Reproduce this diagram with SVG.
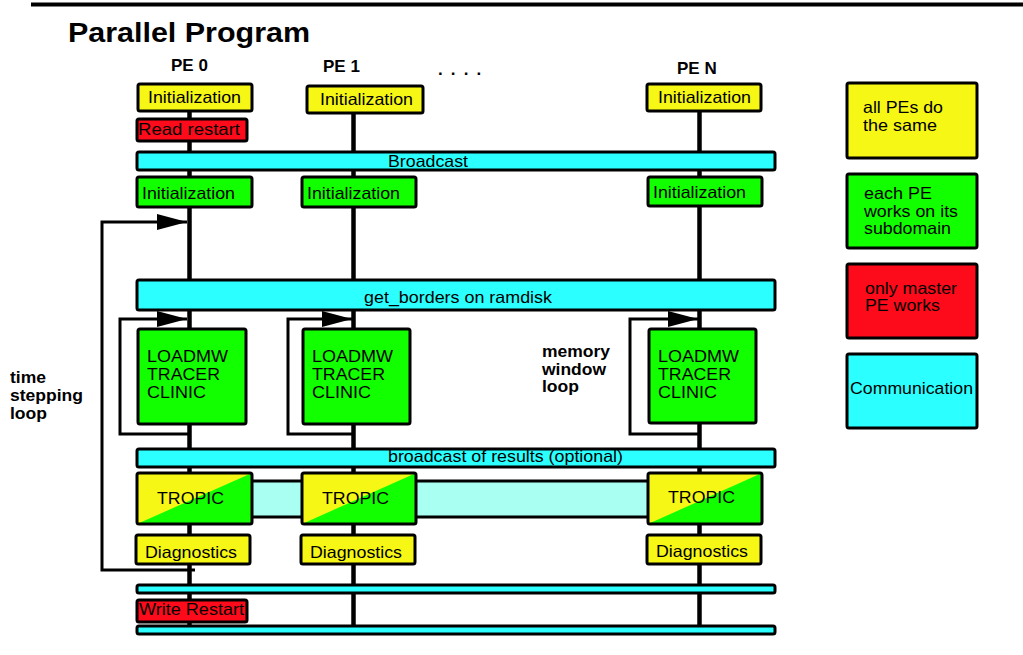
<svg xmlns="http://www.w3.org/2000/svg" width="1023" height="655" viewBox="0 0 1023 655">
  <style>
    .box { stroke: #000; stroke-width: 3; }
    .y { fill: #f7f716; }
    .g { fill: #12ff00; }
    .r { fill: #fd0b1b; }
    .c { fill: #2bffff; }
    .lc { fill: #a8fff2; }
    text { font-family: "Liberation Sans", Arial, sans-serif; fill: #000; }
    .t { font-size: 16.5px; }
    .b { font-size: 17px; font-weight: bold; }
    .lb { font-size: 16px; font-weight: bold; }
    .pe { stroke: #000; stroke-width: 4.5; fill: none; }
    .loop { stroke: #000; stroke-width: 3; fill: none; }
  </style>
  <defs>
    <marker id="head" markerWidth="30" markerHeight="16" refX="30" refY="8" orient="auto" markerUnits="userSpaceOnUse">
      <path d="M0,0 L30,8 L0,16 Z" fill="#000"/>
    </marker>
  </defs>

  <rect width="1023" height="655" fill="#fff"/>

  <!-- header rule and title -->
  <line x1="31" y1="4.5" x2="1023" y2="4.5" stroke="#000" stroke-width="4"/>
  <text x="68" y="42" style="font-size:27px;font-weight:bold" textLength="242" lengthAdjust="spacingAndGlyphs">Parallel Program</text>
  <text class="b" x="171" y="71">PE 0</text>
  <text class="b" x="323" y="72">PE 1</text>
  <text class="b" x="438" y="75" letter-spacing="1.7">. . . .</text>
  <text class="b" x="677" y="74">PE N</text>

  <!-- processor lifelines and loop arrows -->
  <g id="connectors">
    <line class="pe" x1="189.5" y1="110" x2="189.5" y2="627"/>
    <line class="pe" x1="353.5" y1="112" x2="353.5" y2="627"/>
    <line class="pe" x1="699.5" y1="110" x2="699.5" y2="627"/>
    <!-- time stepping loop -->
    <polyline class="loop" points="195,570 102,570 102,222 187,222" marker-end="url(#head)"/>
    <!-- memory window loops -->
    <polyline class="loop" points="189,434 120,434 120,319 187,319" marker-end="url(#head)"/>
    <polyline class="loop" points="353,434 288,434 288,319 352,319" marker-end="url(#head)"/>
    <polyline class="loop" points="699,434 630,434 630,319 698,319" marker-end="url(#head)"/>
  </g>

  <!-- communication bars -->
  <g id="broadcast">
    <rect class="box c" x="137" y="152" width="638" height="18" rx="2"/>
    <text class="t" x="388" y="166.5" textLength="80" lengthAdjust="spacingAndGlyphs">Broadcast</text>
  </g>
  <g id="get-borders">
    <rect class="box c" x="137" y="280" width="638" height="30" rx="2"/>
    <text class="t" x="364" y="302.5" textLength="188" lengthAdjust="spacingAndGlyphs">get_borders on ramdisk</text>
  </g>
  <g id="broadcast-results">
    <rect class="box c" x="137" y="449" width="638" height="18" rx="2"/>
    <text class="t" x="388" y="462" textLength="235" lengthAdjust="spacingAndGlyphs">broadcast of results (optional)</text>
  </g>
  <g id="tropic-exchange">
    <rect class="box lc" x="245" y="481" width="410" height="36"/>
  </g>
  <g id="sync-1">
    <rect class="box c" x="137" y="585" width="638" height="8" rx="2"/>
  </g>
  <g id="sync-2">
    <rect class="box c" x="137" y="626" width="638" height="8" rx="2"/>
  </g>

  <!-- PE 0 -->
  <g id="pe0-init">
    <rect class="box y" x="138" y="84" width="114" height="27" rx="2"/>
    <text class="t" x="148" y="103" textLength="93" lengthAdjust="spacingAndGlyphs">Initialization</text>
  </g>
  <g id="pe0-read-restart">
    <rect class="box r" x="137" y="119" width="110" height="22" rx="2"/>
    <text class="t" x="138" y="135" textLength="102" lengthAdjust="spacingAndGlyphs">Read restart</text>
  </g>
  <g id="pe0-init2">
    <rect class="box g" x="137" y="177" width="115" height="30" rx="2"/>
    <text class="t" x="142" y="199" textLength="93" lengthAdjust="spacingAndGlyphs">Initialization</text>
  </g>
  <g id="pe0-loadmw">
    <rect class="box g" x="138" y="329" width="108" height="95" rx="2"/>
    <text class="t" x="147" y="362" textLength="81" lengthAdjust="spacingAndGlyphs">LOADMW</text>
    <text class="t" x="147" y="380" textLength="73" lengthAdjust="spacingAndGlyphs">TRACER</text>
    <text class="t" x="147" y="398" textLength="59" lengthAdjust="spacingAndGlyphs">CLINIC</text>
  </g>
  <g id="pe0-tropic">
    <rect class="y" x="137" y="473" width="115" height="51"/>
    <polygon class="g" points="137,524 252,473 252,524"/>
    <rect class="box" fill="none" x="137" y="473" width="115" height="51" rx="2"/>
    <text class="t" x="157" y="504" textLength="67" lengthAdjust="spacingAndGlyphs">TROPIC</text>
  </g>
  <g id="pe0-diagnostics">
    <rect class="box y" x="136" y="535" width="114" height="29" rx="2"/>
    <text class="t" x="145" y="558" textLength="92" lengthAdjust="spacingAndGlyphs">Diagnostics</text>
  </g>
  <g id="pe0-write-restart">
    <rect class="box r" x="137" y="600" width="110" height="22" rx="2"/>
    <text class="t" x="139" y="615" textLength="105" lengthAdjust="spacingAndGlyphs">Write Restart</text>
  </g>

  <!-- PE 1 -->
  <g id="pe1-init">
    <rect class="box y" x="307" y="86" width="116" height="27" rx="2"/>
    <text class="t" x="320" y="105" textLength="93" lengthAdjust="spacingAndGlyphs">Initialization</text>
  </g>
  <g id="pe1-init2">
    <rect class="box g" x="302" y="177" width="114" height="30" rx="2"/>
    <text class="t" x="307" y="199" textLength="93" lengthAdjust="spacingAndGlyphs">Initialization</text>
  </g>
  <g id="pe1-loadmw">
    <rect class="box g" x="303" y="329" width="107" height="95" rx="2"/>
    <text class="t" x="312" y="362" textLength="81" lengthAdjust="spacingAndGlyphs">LOADMW</text>
    <text class="t" x="312" y="380" textLength="73" lengthAdjust="spacingAndGlyphs">TRACER</text>
    <text class="t" x="312" y="398" textLength="59" lengthAdjust="spacingAndGlyphs">CLINIC</text>
  </g>
  <g id="pe1-tropic">
    <rect class="y" x="302" y="473" width="114" height="51"/>
    <polygon class="g" points="302,524 416,473 416,524"/>
    <rect class="box" fill="none" x="302" y="473" width="114" height="51" rx="2"/>
    <text class="t" x="322" y="504" textLength="67" lengthAdjust="spacingAndGlyphs">TROPIC</text>
  </g>
  <g id="pe1-diagnostics">
    <rect class="box y" x="301" y="535" width="114" height="29" rx="2"/>
    <text class="t" x="310" y="558" textLength="92" lengthAdjust="spacingAndGlyphs">Diagnostics</text>
  </g>

  <!-- PE N -->
  <g id="pen-init">
    <rect class="box y" x="647" y="84" width="114" height="27" rx="2"/>
    <text class="t" x="658" y="103" textLength="93" lengthAdjust="spacingAndGlyphs">Initialization</text>
  </g>
  <g id="pen-init2">
    <rect class="box g" x="648" y="177" width="114" height="29" rx="2"/>
    <text class="t" x="653" y="198" textLength="93" lengthAdjust="spacingAndGlyphs">Initialization</text>
  </g>
  <g id="pen-loadmw">
    <rect class="box g" x="649" y="329" width="107" height="94" rx="2"/>
    <text class="t" x="658" y="362" textLength="81" lengthAdjust="spacingAndGlyphs">LOADMW</text>
    <text class="t" x="658" y="380" textLength="73" lengthAdjust="spacingAndGlyphs">TRACER</text>
    <text class="t" x="658" y="398" textLength="59" lengthAdjust="spacingAndGlyphs">CLINIC</text>
  </g>
  <g id="pen-tropic">
    <rect class="y" x="648" y="473" width="114" height="51"/>
    <polygon class="g" points="648,524 762,473 762,524"/>
    <rect class="box" fill="none" x="648" y="473" width="114" height="51" rx="2"/>
    <text class="t" x="668" y="503" textLength="67" lengthAdjust="spacingAndGlyphs">TROPIC</text>
  </g>
  <g id="pen-diagnostics">
    <rect class="box y" x="647" y="535" width="114" height="29" rx="2"/>
    <text class="t" x="656" y="557" textLength="92" lengthAdjust="spacingAndGlyphs">Diagnostics</text>
  </g>

  <!-- loop labels -->
  <g id="time-loop-label">
    <text class="lb" x="10" y="383" textLength="36" lengthAdjust="spacingAndGlyphs">time</text>
    <text class="lb" x="10" y="401" textLength="73" lengthAdjust="spacingAndGlyphs">stepping</text>
    <text class="lb" x="10" y="419" textLength="37" lengthAdjust="spacingAndGlyphs">loop</text>
  </g>
  <g id="memory-loop-label">
    <text class="lb" x="542" y="357" textLength="68" lengthAdjust="spacingAndGlyphs">memory</text>
    <text class="lb" x="542" y="374.5" textLength="64" lengthAdjust="spacingAndGlyphs">window</text>
    <text class="lb" x="542" y="392" textLength="37" lengthAdjust="spacingAndGlyphs">loop</text>
  </g>

  <!-- legend -->
  <g id="legend-all">
    <rect class="box y" x="847" y="83" width="130" height="75" rx="2"/>
    <text class="t" x="863" y="113" textLength="80" lengthAdjust="spacingAndGlyphs">all PEs do</text>
    <text class="t" x="863" y="131" textLength="74" lengthAdjust="spacingAndGlyphs">the same</text>
  </g>
  <g id="legend-each">
    <rect class="box g" x="847" y="174" width="130" height="74" rx="2"/>
    <text class="t" x="864" y="199" textLength="68" lengthAdjust="spacingAndGlyphs">each PE</text>
    <text class="t" x="864" y="217" textLength="94" lengthAdjust="spacingAndGlyphs">works on its</text>
    <text class="t" x="864" y="234" textLength="87" lengthAdjust="spacingAndGlyphs">subdomain</text>
  </g>
  <g id="legend-master">
    <rect class="box r" x="847" y="264" width="130" height="74" rx="2"/>
    <text class="t" x="865" y="294" textLength="92" lengthAdjust="spacingAndGlyphs">only master</text>
    <text class="t" x="865" y="311" textLength="75" lengthAdjust="spacingAndGlyphs">PE works</text>
  </g>
  <g id="legend-comm">
    <rect class="box c" x="847" y="354" width="130" height="74" rx="2"/>
    <text class="t" x="850" y="394" textLength="123" lengthAdjust="spacingAndGlyphs">Communication</text>
  </g>
</svg>
